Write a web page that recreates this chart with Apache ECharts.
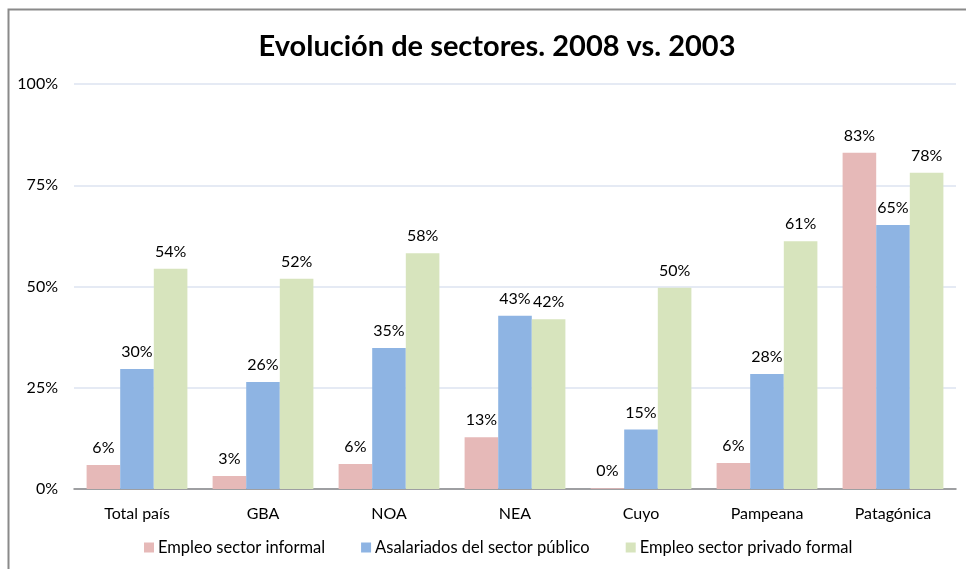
<!DOCTYPE html>
<html>
<head>
<meta charset="utf-8">
<script src="https://cdn.jsdelivr.net/npm/echarts@6/dist/echarts.min.js"></script>
<style>
  html, body { margin: 0; padding: 0; background: #fff; }
  #chart { width: 966px; height: 569px; }
</style>
</head>
<body>
<div id="chart"></div>
<script>
const regiones = ['Total país', 'GBA', 'NOA', 'NEA', 'Cuyo', 'Pampeana', 'Patagónica']
const informal = [5.9, 3.2, 6.2, 12.8, 0.2, 6.4, 83.0]
const publico = [29.6, 26.4, 34.8, 42.8, 14.7, 28.4, 65.2]
const privado = [54.4, 51.9, 58.2, 41.9, 49.7, 61.2, 78.1]
const yTicks = [0, 25, 50, 75, 100]

const fuente = 'Lato, "Open Sans", sans-serif'

let chartInstance = echarts.init(document.getElementById('chart'))

let etiqueta = {
  show: true,
  position: 'top',
  distance: 9,
  color: '#000',
  fontFamily: fuente,
  fontSize: 16,
  formatter: (p) => Math.round(p.value) + '%'
}

let serie = (name, data, color) => ({
  name: name,
  type: 'bar',
  data: data,
  barGap: 0,
  barCategoryGap: '20%',
  itemStyle: { color: color },
  label: etiqueta
})

const option = {
  animation: false,
  title: {
    text: 'Evolución de sectores. 2008 vs. 2003',
    left: 492,
    textAlign: 'center',
    top: 27,
    textStyle: {
      fontFamily: fuente,
      fontWeight: 'bold',
      fontSize: 29,
      color: '#000'
    }
  },
  graphic: [
    {
      type: 'rect',
      shape: { x: 8.5, y: 9.5, width: 1000, height: 1000 },
      style: { fill: 'none', stroke: '#8a8a8a', lineWidth: 2 }
    }
  ],
  legend: {
    bottom: 8,
    left: 139,
    itemWidth: 10,
    itemHeight: 10,
    itemGap: 36,
    icon: 'rect',
    textStyle: { fontFamily: fuente, fontSize: 16.5, color: '#000', padding: [0, 0, 0, -1] },
    data: ['Empleo sector informal', 'Asalariados del sector público', 'Empleo sector privado formal']
  },
  grid: {
    left: 74,
    right: 10,
    top: 84,
    bottom: 80
  },
  xAxis: {
    type: 'category',
    data: regiones,
    axisTick: { show: false },
    axisLine: { lineStyle: { color: '#868686', width: 1.5 } },
    axisLabel: { color: '#000', fontFamily: fuente, fontSize: 16, margin: 17 }
  },
  yAxis: {
    type: 'value',
    min: yTicks[0],
    max: yTicks[yTicks.length - 1],
    interval: 25,
    axisLine: { show: false },
    axisTick: { show: false },
    splitLine: { lineStyle: { color: '#dde3f0', width: 1.5 } },
    axisLabel: {
      color: '#000',
      fontFamily: fuente,
      fontSize: 16,
      margin: 16,
      formatter: (v) => v + '%'
    }
  },
  series: [
    serie('Empleo sector informal', informal, '#e6b9b8'),
    serie('Asalariados del sector público', publico, '#8eb4e3'),
    serie('Empleo sector privado formal', privado, '#d7e4bd')
  ]
}

chartInstance.setOption(option)
</script>
</body>
</html>
